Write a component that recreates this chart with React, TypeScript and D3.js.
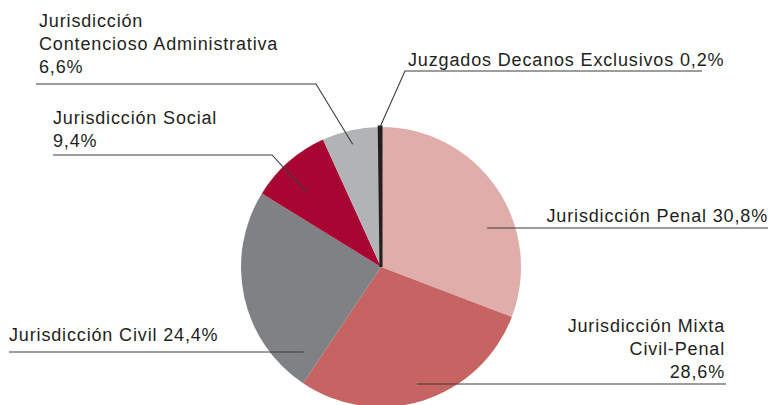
import React from "react";
import * as d3 from "d3";

const categories = [
  "Jurisdicción Penal",
  "Jurisdicción Mixta Civil-Penal",
  "Jurisdicción Civil",
  "Jurisdicción Social",
  "Jurisdicción Contencioso Administrativa",
  "Juzgados Decanos Exclusivos",
];
const values = [30.8, 28.6, 24.4, 9.4, 6.6, 0.2];
const valueLabels = ["30,8%", "28,6%", "24,4%", "9,4%", "6,6%", "0,2%"];
const colors = ["#e0aeaa", "#c56463", "#808184", "#a80533", "#b2b3b5", "#231f20"];

// label layout: text lines, anchor, text position, leader line path (anchor in polar: angle deg, radius)
const labelLayout = [
  { lines: ["Jurisdicción Penal 30,8%"], anchor: "end", tx: 768, ty: 222, angle: 69.8, r: 113, elbow: null as null | [number, number], endX: 768, lineY: 228 },
  { lines: ["Jurisdicción Mixta", "Civil-Penal", "28,6%"], anchor: "end", tx: 725, ty: 332, angle: 162.9, r: 122, elbow: null, endX: 726, lineY: 384 },
  { lines: ["Jurisdicción Civil 24,4%"], anchor: "start", tx: 9, ty: 341, angle: 222.2, r: 115, elbow: null, endX: 9, lineY: 352 },
  { lines: ["Jurisdicción Social", "9,4%"], anchor: "start", tx: 53, ty: 124, angle: 315.1, r: 105, elbow: [272, 155], endX: 53, lineY: 155 },
  { lines: ["Jurisdicción", "Contencioso Administrativa", "6,6%"], anchor: "start", tx: 39, ty: 27, angle: 347, r: 126, elbow: [316, 84], endX: 36, lineY: 84 },
  { lines: ["Juzgados Decanos Exclusivos 0,2%"], anchor: "start", tx: 408, ty: 66, angle: 359.6, r: 140, elbow: [405, 71], endX: 702, lineY: 71 },
];

const W = 771, H = 405;
const cx = 381, cy = 267, R = 140;

export default function App() {
  const pie = d3.pie<number>().sort(null).startAngle(0).endAngle(2 * Math.PI);
  const arcs = pie(values);
  const arc = d3.arc<d3.PieArcDatum<number>>().innerRadius(0).outerRadius(R);
  const font = "'Liberation Sans', Arial, sans-serif";
  return (
    <svg width={W} height={H} style={{ position: "absolute", left: 0, top: 0 }}>
      <g transform={`translate(${cx},${cy})`}>
        {arcs.map((a, i) => (
          <path
            key={categories[i]}
            d={arc(a) || ""}
            fill={colors[i]}
            stroke={i === 5 ? colors[5] : "none"}
            strokeWidth={i === 5 ? 3 : 0}
          />
        ))}
      </g>
      {labelLayout.map((l, i) => {
        const rad = (l.angle * Math.PI) / 180;
        const ax = cx + l.r * Math.sin(rad);
        const ay = cy - l.r * Math.cos(rad);
        let pts: [number, number][];
        if (l.elbow) {
          pts = [[ax, ay], l.elbow, [l.endX, l.lineY]];
        } else {
          pts = [[ax, l.lineY], [l.endX, l.lineY]];
        }
        const line = d3.line();
        return (
          <g key={i}>
            <path d={line(pts) || ""} fill="none" stroke="#3c3c3c" strokeWidth={1.1} />
            <text
              x={l.tx}
              y={l.ty}
              textAnchor={l.anchor as any}
              fontFamily={font}
              fontSize={18}
              letterSpacing={0.85}
              fill="#231f20"
            >
              {l.lines.map((t, j) => (
                <tspan key={j} x={l.tx} dy={j === 0 ? 0 : 23}>
                  {t}
                </tspan>
              ))}
            </text>
          </g>
        );
      })}
    </svg>
  );
}
